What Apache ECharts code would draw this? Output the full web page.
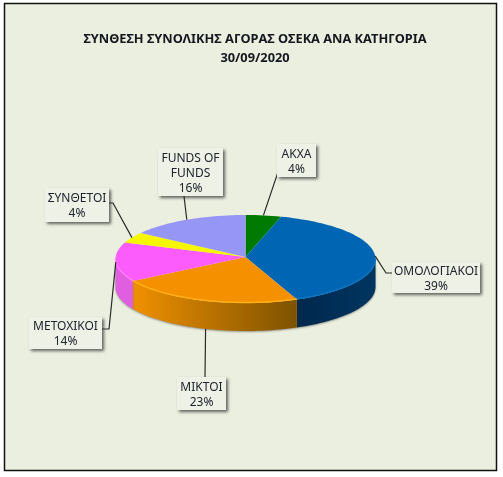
<!DOCTYPE html>
<html><head><meta charset="utf-8">
<style>html,body{margin:0;padding:0;background:#fff}#c{width:503px;height:477px}</style>
<script src="https://cdn.jsdelivr.net/npm/echarts@6/dist/echarts.min.js"></script>
</head><body><div id="c"></div>
<script>
var categories = ['ΑΚΧΑ','ΟΜΟΛΟΓΙΑΚΟΙ','ΜΙΚΤΟΙ','ΜΕΤΟΧΙΚΟΙ','ΣΥΝΘΕΤΟΙ','FUNDS OF FUNDS'];
var labelLines = [['ΑΚΧΑ'],['ΟΜΟΛΟΓΙΑΚΟΙ'],['ΜΙΚΤΟΙ'],['ΜΕΤΟΧΙΚΟΙ'],['ΣΥΝΘΕΤΟΙ'],['FUNDS OF','FUNDS']];
var percentLabels = ['4%','39%','23%','14%','4%','16%'];
var values = [4.4,39.1,23.1,14.4,4.0,14.9];
var colors = ['#007a00','#0066b3','#f59000','#fb5cfb','#f6f600','#9696f6'];
var sideStops = [
  ['#005000','#005000'],
  ['#00284d','#003560'],
  ['#f09000','#7d5200'],
  ['#e05ee0','#e05ee0'],
  ['#a0a000','#a0a000'],
  ['#6060a0','#6060a0']
];
var rimColors = ['#008a00','#0a74c2','#ffae14','#ff7cff','#ffff30','#a6a6ff'];
// label boxes [x,y,w,h], leader elbow points, leader anchor tweak (degrees), anchor on side wall
var boxes = [[277,144,39,33],[392,262,88,31],[177,377,49,33],[29,317,73,32],[45,188,64,34],[158,148,65,48]];
var elbows = [[[278,172],[285,172]],[[386,273],[392,273]],[[205,378]],[[109,329],[100,329]],[[113,203],[107,203]],[[184,196]]];
var anchorShift = [0,0,-0.5,0,0,0];
var onWall = [0,0,1,0,0,0];

var CX=245.5, CY=259, RX=130, RY=44, DEPTH=28, APEXY=257;
var total = values.reduce(function(a,b){return a+b;},0);
function rim(deg,dy){var a=deg*Math.PI/180;return [CX+RX*Math.sin(a),CY-RY*Math.cos(a)+(dy||0)];}
function arc(a0,a1,dy){var p=[],n=Math.max(2,Math.ceil(Math.abs(a1-a0)/2));
  for(var i=0;i<=n;i++)p.push(rim(a0+(a1-a0)*i/n,dy));return p;}

function renderItem(params,api){
  var i=params.dataIndex, start=0;
  for(var k=0;k<i;k++)start+=values[k];
  var a0=start/total*360, a1=(start+api.value(0))/total*360, mid=(a0+a1)/2;
  var ch=[];
  // side wall (front half only)
  var s0=Math.max(a0,90), s1=Math.min(a1,270);
  if(s1>s0){
    var wall=arc(s0,s1,0).concat(arc(s1,s0,DEPTH));
    ch.push({type:'polygon',z2:1,shape:{points:wall},
      style:{fill:{type:'linear',x:0,y:0,x2:1,y2:0,colorStops:[{offset:0,color:sideStops[i][0]},{offset:1,color:sideStops[i][1]}]},
             shadowBlur:2,shadowColor:'rgba(60,60,60,0.5)',shadowOffsetY:1}});
  }
  // top face
  var top=[[CX,APEXY]].concat(arc(a0,a1,0));
  ch.push({type:'polygon',z2:2,shape:{points:top},style:{fill:colors[i]}});
  if(s1>s0){
    ch.push({type:'polyline',z2:3,shape:{points:arc(s0,s1,-0.5)},style:{fill:null,stroke:rimColors[i],lineWidth:1.5}});
  }
  // leader
  var anchor=rim(mid+anchorShift[i],onWall[i]?DEPTH:0);
  ch.push({type:'polyline',z2:4,shape:{points:[anchor].concat(elbows[i])},style:{fill:null,stroke:'#2a2a2a',lineWidth:1.2}});
  // label box
  var b=boxes[i];
  ch.push({type:'rect',z2:5,shape:{x:b[0],y:b[1],width:b[2],height:b[3]},
    style:{fill:'#eef1e5',shadowBlur:3,shadowColor:'rgba(50,50,50,0.75)',shadowOffsetX:2,shadowOffsetY:2}});
  ch.push({type:'text',z2:6,style:{x:b[0]+b[2]/2,y:b[1]+b[3]/2+1.5,text:labelLines[i].concat([percentLabels[i]]).join('\n'),
    fill:'#20242e',font:'12px "Noto Sans", sans-serif',lineHeight:15,align:'center',verticalAlign:'middle'}});
  return {type:'group',children:ch};
}

var chart=echarts.init(document.getElementById('c'),null,{renderer:'canvas'});
chart.setOption({
  animation:false,
  backgroundColor:'#ffffff',
  graphic:[{type:'rect',z:-1,shape:{x:4.5,y:3.5,width:492,height:467},style:{fill:'#ebefdf',stroke:'#111',lineWidth:1.5}}],
  title:{text:'ΣΥΝΘΕΣΗ ΣΥΝΟΛΙΚΗΣ ΑΓΟΡΑΣ ΟΣΕΚΑ ΑΝΑ ΚΑΤΗΓΟΡΙΑ\n30/09/2020',left:250,top:24.5,textAlign:'center',
    textStyle:{fontFamily:'"Noto Sans", sans-serif',fontSize:12.8,fontWeight:'bold',color:'#15181f',lineHeight:19,align:'center'}},
  series:[{type:'custom',coordinateSystem:'none',renderItem:renderItem,silent:true,clip:false,
    data:values.map(function(v,i){return {name:categories[i],value:[v]};})}]
});
</script></body></html>
